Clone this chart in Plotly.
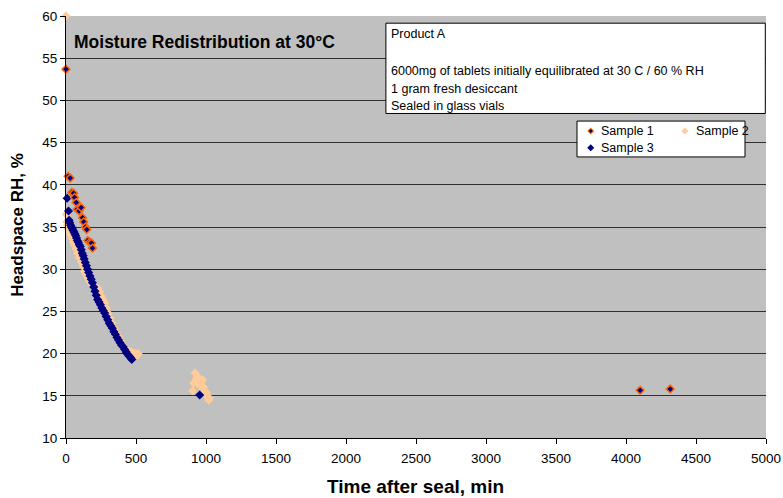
import plotly.graph_objects as go

# ---- data ----
s1_x = [0, 15, 30, 41, 54, 61, 73, 80, 94, 108, 118, 127, 139, 148, 156, 170, 182, 189, 4101, 4316]
s1_y = [53.7, 41.0, 40.8, 39.1, 39.0, 38.5, 37.9, 37.1, 36.9, 37.3, 36.1, 35.6, 35.0, 34.7, 33.4, 33.2, 33.1, 32.5, 15.65, 15.8]

s2_x = [0, 3, 6, 10, 16, 24, 33, 42, 52, 62, 72, 84, 96, 108, 120, 132, 144, 156, 168, 180,
        192, 204, 216, 228, 240, 252, 264, 276, 288, 300, 315, 330, 345, 360, 375, 390, 405, 420,
        435, 450, 465, 478, 490, 500, 510, 515,
        905, 912, 922, 930, 938, 946, 955, 965, 975, 983, 992, 1001, 1008, 1014, 1020, 1025]
s2_y = [60.0, 36.5, 35.6, 35.2, 34.8, 34.5, 34.1, 33.7, 33.2, 32.8, 32.4, 31.9, 31.4, 30.9, 30.4, 29.8,
        29.4, 29.0, 28.6, 28.3, 28.1, 27.9, 27.8, 27.7, 27.3, 26.8, 26.4, 26.0, 25.4, 24.8, 24.2, 23.6,
        23.0, 22.5, 22.0, 21.5, 21.0, 20.7, 20.4, 20.3, 20.2, 20.1, 20.0, 19.9, 19.8, 20.0,
        15.6, 16.5, 17.7, 17.0, 17.3, 16.6, 16.2, 16.6, 16.9, 16.0, 15.5, 15.4, 15.0, 14.8, 14.5, 14.7]

s3_x = [8, 18, 22, 27, 33, 38, 45, 51, 57, 63, 69, 75, 81, 88, 95, 102, 109, 116, 123, 130, 138, 146,
        154, 162, 171, 180, 189, 198, 207, 216, 226, 236, 246, 256, 266, 276, 287, 298, 309, 320, 331,
        342, 353, 364, 375, 386, 397, 408, 419, 430, 441, 452, 462, 470, 955]
s3_y = [38.4, 36.9, 35.8, 35.5, 35.2, 35.0, 34.8, 34.6, 34.4, 34.2, 34.0, 33.7, 33.4, 33.2, 32.9, 32.7,
        32.3, 31.9, 31.6, 31.2, 30.8, 30.4, 30.0, 29.6, 29.2, 28.8, 28.4, 27.9, 27.4, 26.9, 26.4, 26.1,
        25.8, 25.4, 25.1, 24.8, 24.4, 24.0, 23.6, 23.3, 23.0, 22.6, 22.3, 21.9, 21.6, 21.3, 21.0, 20.8,
        20.5, 20.2, 19.9, 19.7, 19.5, 19.3, 15.1]

series_names = ["Sample 1", "Sample 2", "Sample 3"]
x_ticks = [0, 500, 1000, 1500, 2000, 2500, 3000, 3500, 4000, 4500, 5000]
y_ticks = [10, 15, 20, 25, 30, 35, 40, 45, 50, 55, 60]
title_text = "Moisture Redistribution at 30°C"
note_lines = ["Product A", "6000mg of tablets initially equilibrated at 30 C / 60 % RH",
              "1 gram fresh desiccant", "Sealed in glass vials"]

FONT = "Liberation Sans, Arial, sans-serif"
NAVY = "#000080"
ORANGE = "#FF6600"
PEACH = "#FFCC99"

fig = go.Figure()
fig.add_trace(go.Scatter(x=s2_x, y=s2_y, mode="markers", name=series_names[1], cliponaxis=False,
                         marker=dict(symbol="diamond", size=7, color=PEACH, line=dict(width=0))))
fig.add_trace(go.Scatter(x=s3_x, y=s3_y, mode="markers", name=series_names[2], cliponaxis=False,
                         marker=dict(symbol="diamond", size=7, color=NAVY, line=dict(width=0))))
fig.add_trace(go.Scatter(x=s1_x, y=s1_y, mode="markers", name=series_names[0], cliponaxis=False,
                         marker=dict(symbol="diamond", size=6, color=NAVY, line=dict(width=1.5, color=ORANGE))))


def diamond(cx, cy, half_px, color):
    dx = half_px / 700.0
    dy = half_px / 422.0
    path = (f"M {cx - dx},{cy} L {cx},{cy + dy} L {cx + dx},{cy} L {cx},{cy - dy} Z")
    return dict(type="path", xref="paper", yref="paper", path=path, fillcolor=color,
                line=dict(width=0), layer="above")


shapes = [
    # text box
    dict(type="rect", xref="paper", yref="paper", x0=0.457, x1=0.999, y0=0.769, y1=0.983,
         fillcolor="white", line=dict(color="black", width=1), layer="above"),
    # legend box
    dict(type="rect", xref="paper", yref="paper", x0=0.730, x1=0.970, y0=0.666, y1=0.751,
         fillcolor="white", line=dict(color="black", width=1), layer="above"),
    # legend symbols
    diamond(0.7496, 0.7275, 3.5, ORANGE),
    diamond(0.7496, 0.7275, 2.0, NAVY),
    diamond(0.884, 0.7275, 3.5, PEACH),
    diamond(0.7496, 0.688, 3.5, NAVY),
]

annotations = []
note_y = [0.957, 0.870, 0.827, 0.787]
for t, yy in zip(note_lines, note_y):
    annotations.append(dict(text=t, xref="paper", yref="paper", x=0.461, y=yy, xanchor="left",
                            yanchor="middle", showarrow=False, font=dict(size=12.5, color="black", family=FONT)))
leg_pos = [(0.762, 0.7275), (0.897, 0.7275), (0.762, 0.688)]
for name, (lx, ly) in zip(series_names, leg_pos):
    annotations.append(dict(text=name, xref="paper", yref="paper", x=lx, y=ly, xanchor="left",
                            yanchor="middle", showarrow=False, font=dict(size=12.5, color="black", family=FONT)))
annotations.append(dict(text="<b>" + title_text + "</b>", xref="paper", yref="paper", x=0.009, y=0.939,
                        xanchor="left", yanchor="middle", showarrow=False,
                        font=dict(size=17.5, color="black", family=FONT)))
annotations.append(dict(text="<b>Time after seal, min</b>", xref="paper", yref="paper", x=0.4986, y=-0.116,
                        xanchor="center", yanchor="middle", showarrow=False,
                        font=dict(size=19, color="black", family=FONT)))
annotations.append(dict(text="<b>Headspace RH, %</b>", xref="paper", yref="paper", x=-0.0686, y=0.505,
                        xanchor="center", yanchor="middle", showarrow=False, textangle=-90,
                        font=dict(size=17, color="black", family=FONT)))

fig.update_layout(
    width=783, height=498, autosize=False,
    margin=dict(l=66, r=17, t=16, b=60, pad=0, autoexpand=False),
    paper_bgcolor="white", plot_bgcolor="#C0C0C0",
    showlegend=False,
    font=dict(family=FONT, size=13.5, color="black"),
    xaxis=dict(range=[0, 5000], tickvals=x_ticks, ticktext=[str(v) for v in x_ticks],
               showgrid=False, zeroline=False, showline=True, linecolor="black", linewidth=1,
               ticks="outside", ticklen=5, tickcolor="black", tickfont=dict(size=13.5),
               ticklabelstandoff=3, automargin=False),
    yaxis=dict(range=[10, 60], tickvals=y_ticks, ticktext=[str(v) for v in y_ticks],
               showgrid=True, gridcolor="#303030", gridwidth=1, zeroline=False,
               showline=True, linecolor="black", linewidth=1, automargin=False,
               ticks="outside", ticklen=5, tickcolor="black", tickfont=dict(size=13.5)),
    shapes=shapes,
    annotations=annotations,
)

fig.write_html("out.html")
